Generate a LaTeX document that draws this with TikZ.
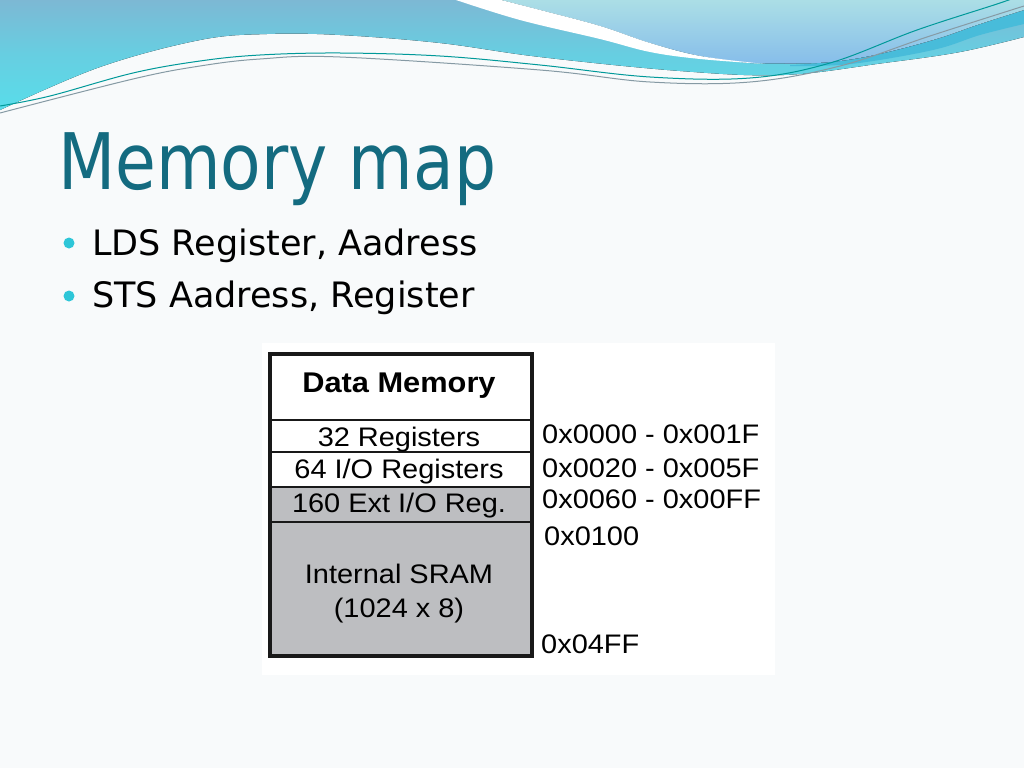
\documentclass[tikz,border=0pt]{standalone}
\usepackage{fontspec}
\newfontfamily\slidefont{DejaVu Sans}
\newfontfamily\titlefont[FakeStretch=0.85]{DejaVu Sans}
\newfontfamily\figfont[FakeStretch=1.08]{Liberation Sans}
\definecolor{titleteal}{HTML}{146B80}
\definecolor{bulletcyan}{HTML}{2EC6D8}
\definecolor{sramgray}{HTML}{BDBEC1}
\definecolor{waveblue}{HTML}{7DB8D4}
\definecolor{wavecyan}{HTML}{58DDEA}
\definecolor{wavepale}{HTML}{ACDFE6}
\definecolor{wavesky}{HTML}{86BDEA}
\definecolor{wavedeep}{HTML}{48BCDA}
\definecolor{slidebg}{HTML}{F8FAFB}
\begin{document}
\begin{tikzpicture}[x=1pt, y=-1pt,
    cell/.style={font=\figfont\fontsize{26.8}{30}\selectfont, anchor=base, inner sep=0pt},
    head/.style={cell, font=\figfont\bfseries\fontsize{28.5}{32}\selectfont},
    addr/.style={font=\figfont\fontsize{26.8}{30}\selectfont, anchor=base west, inner sep=0pt},
    item/.style={font=\slidefont\fontsize{35}{40}\selectfont, anchor=base west, inner sep=0pt}]
  \useasboundingbox (0,0) rectangle (1024,768);
  \fill[slidebg] (0,0) rectangle (1024,768);
  % top wave
  \fill[top color=waveblue, bottom color=wavecyan, middle color=wavecyan!60!waveblue] (0,-1) -- (1024,-1) --
    plot[smooth, tension=0.6] coordinates {(1024,37) (960,52) (884,63) (784,75) (680,71) (540,57) (440,43) (340,35) (267,34) (200,40) (100,67) (0,110)} -- cycle;
  \fill[wavedeep] plot[smooth, tension=0.6] coordinates {(790,65) (817,63) (870,55) (933,40) (980,24) (1024,10)} --
    plot[smooth, tension=0.6] coordinates {(1024,24) (980,35) (933,50) (851,64) (790,66)} -- cycle;
  \fill[top color=wavepale, bottom color=wavesky] plot[smooth, tension=0.6] coordinates {(497,-1) (540,10) (600,26) (650,43) (700,56) (750,63)} --
    plot[smooth, tension=0.6] coordinates {(750,63) (817,63) (870,56) (933,40) (980,24) (1024,10)} -- (1024,-1) -- cycle;
  \fill[white] plot[smooth, tension=0.6] coordinates {(453,-1) (520,20) (600,39) (650,52) (700,59) (765,64)} --
    plot[smooth, tension=0.6] coordinates {(765,64) (700,56) (650,43) (600,26) (540,10) (497,-1)} -- cycle;
  \draw[line width=1pt, teal!80!cyan] plot[smooth, tension=0.6] coordinates {(0,106) (50,96) (133,73) (200,61) (260,55) (340,53) (440,56) (540,65) (650,77) (750,78) (830,63) (917,30) (1000,3) (1030,-8)};
  \draw[line width=1pt, gray!80!cyan] plot[smooth, tension=0.6] coordinates {(0,113) (133,79) (200,66) (260,59) (340,57) (540,70) (650,82) (750,82) (840,66) (930,36) (1024,6)};
  % title and bullets
  \node[titleteal, font=\titlefont\fontsize{78}{90}\selectfont, anchor=base west, inner sep=0pt] (title) at (58,189) {Memory map};
  \fill[bulletcyan] (69,243) circle (5.5);
  \fill[bulletcyan] (69,296) circle (5.5);
  \node[item] (lds) at (92,255) {LDS Register, Aadress};
  \node[item] (sts) at (92,307) {STS Aadress, Register};
  % memory map
  \fill[white] (262,343) rectangle (775,675);
  \fill[sramgray] (269.5,487) rectangle (531.5,655.5);
  \foreach \y in {420,452,487,522}
    \draw[line width=2pt, black!90] (269.5,\y) -- (531.5,\y);
  \draw[line width=4pt, black!90] (269.5,353.5) rectangle (531.5,655.5);
  \node[head] (dm) at (399,392) {Data Memory};
  \node[cell] (regs) at (399,446) {32 Registers};
  \node[cell] (ioregs) at (399,478) {64 I/O Registers};
  \node[cell] (extregs) at (399,512) {160 Ext I/O Reg.};
  \node[cell] (sram) at (399,583) {Internal SRAM};
  \node[cell] (sramsize) at (399,617) {(1024 x 8)};
  \node[addr] (a0) at (542,443) {0x0000 - 0x001F};
  \node[addr] (a1) at (542,477) {0x0020 - 0x005F};
  \node[addr] (a2) at (542,508) {0x0060 - 0x00FF};
  \node[addr] (a3) at (544,545) {0x0100};
  \node[addr] (a4) at (541,653) {0x04FF};
\end{tikzpicture}
\end{document}
